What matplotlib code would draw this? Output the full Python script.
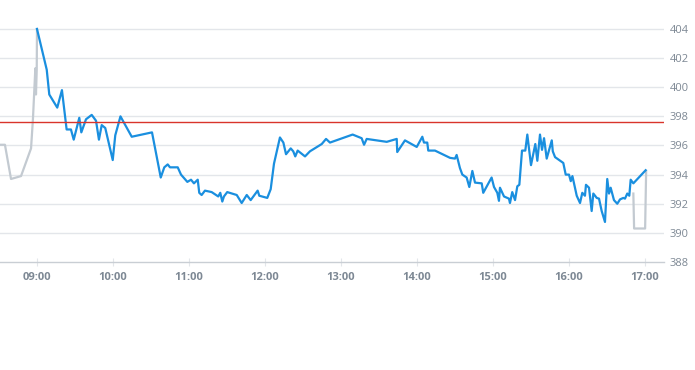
"""Intraday price chart: pre/post session in grey, session in blue, reference level in red."""
import matplotlib
matplotlib.use("Agg")
import matplotlib.pyplot as plt

plt.rcParams["font.family"] = ["Open Sans", "DejaVu Sans"]

# minutes after 09:00 -> price
pre_t = [-30, -25.3, -20.5, -12.6, -4.7, -3.2, -1.3, -0.8, -0.2, 0]
pre_p = [396.05, 396.05, 393.7, 393.9, 395.8, 397.8, 401.3, 399.5, 401.2, 404.0]

sess_t = [0, 7.7, 9.7, 16.0, 19.7, 23.4, 26.8, 29.0, 33.4, 35.0, 38.7, 43.2, 46.6,
          48.9, 51.1, 53.9, 59.8, 61.8, 65.9, 74.8, 90.8, 97.7, 100.5, 103.2, 105.0,
          111.1, 113.7, 118.7, 121.6, 123.9, 126.9, 128.1, 130.0, 132.6, 137.9,
          143.1, 144.7, 146.3, 147.6, 150.2, 157.7, 161.6, 165.6, 168.7, 174.2,
          175.5, 181.8, 184.5, 187.1, 191.8, 194.5, 196.6, 200.3, 202.3, 203.9,
          205.8, 211.6, 215.5, 224.8, 228.2, 231.3, 249.2, 256.3, 258.2, 260.3,
          276.1, 284.0, 284.4, 290.5, 299.8, 304.2, 305.5, 308.1, 308.9, 314.2,
          326.1, 330.0, 331.3, 333.9, 335.8, 339.2, 341.3, 343.7, 345.8, 351.1,
          352.3, 358.9, 360.8, 363.4, 364.7, 365.5, 368.7, 372.6, 373.4, 375.2,
          377.4, 379.2, 380.8, 382.9, 385.5, 387.1, 390.0, 393.4, 395.0, 397.1,
          398.7, 400.3, 402.4, 406.4, 407.2, 409.0, 415.5, 417.4, 420.0, 421.4,
          422.7, 426.1, 428.7, 430.5, 432.6, 433.4, 435.8, 437.9, 439.2, 441.9,
          443.7, 445.8, 448.4, 450.2, 451.6, 452.9, 455.5, 458.1, 460.3, 462.9,
          464.2, 466.0, 467.6, 468.7, 470.8, 480.5]
sess_p = [404.0, 401.2, 399.5, 398.6, 399.8, 397.1, 397.1, 396.4, 397.9, 396.9, 397.8,
          398.1, 397.7, 396.4, 397.4, 397.2, 395.0, 396.7, 398.0, 396.6, 396.9, 393.8,
          394.5, 394.7, 394.5, 394.5, 394.0, 393.5, 393.65, 393.4, 393.65, 392.75,
          392.6, 392.9, 392.8, 392.5, 392.75, 392.15, 392.5, 392.8, 392.6, 392.05,
          392.6, 392.25, 392.9, 392.55, 392.4, 393.0, 394.75, 396.55, 396.2, 395.4,
          395.8, 395.6, 395.25, 395.65, 395.25, 395.6, 396.1, 396.45, 396.2, 396.75,
          396.5, 396.05, 396.45, 396.25, 396.45, 395.55, 396.35, 395.9, 396.6, 396.2,
          396.2, 395.65, 395.65, 395.15, 395.1, 395.35, 394.45, 394.0, 393.8, 393.15,
          394.25, 393.45, 393.4, 392.75, 393.8, 393.15, 392.75, 392.2, 393.1, 392.5,
          392.35, 392.05, 392.8, 392.25, 393.2, 393.3, 395.65, 395.65, 396.75, 394.65,
          396.1, 394.95, 396.75, 395.7, 396.5, 395.1, 396.35, 395.6, 395.2, 394.8,
          394.0, 394.0, 393.55, 393.9, 392.55, 392.05, 392.75, 392.55, 393.3, 393.1,
          391.5, 392.7, 392.4, 392.35, 391.5, 390.75, 393.7, 392.7, 393.1, 392.25,
          392.0, 392.3, 392.4, 392.35, 392.7, 392.55, 393.65, 393.4, 394.3]

post_t = [470.8, 471.4, 480.1, 480.9]
post_p = [392.7, 390.3, 390.3, 394.25]

ref_level = 397.63

hour_ticks = [0, 60, 120, 180, 240, 300, 360, 420, 480]
hour_labels = ["09:00", "10:00", "11:00", "12:00", "13:00", "14:00", "15:00", "16:00", "17:00"]
price_ticks = [388, 390, 392, 394, 396, 398, 400, 402, 404]

fig = plt.figure(figsize=(6.95, 3.70), dpi=100)
ax = fig.add_axes([0.0, 1 - 262 / 370, 664 / 695, (262 - 14.4) / 370])

for y in price_ticks[1:]:
    ax.axhline(y, color="#e3e6ea", lw=1, zorder=0)

ax.plot(pre_t, pre_p, color="#c3cad1", lw=1.6, zorder=2)
ax.plot(sess_t, sess_p, color="#1a8fdf", lw=1.6, zorder=3)
ax.plot(post_t, post_p, color="#c3cad1", lw=1.6, zorder=2)
ax.axhline(ref_level, color="#d9342b", lw=1, zorder=4)

ax.set_xlim(-29.2, 495)
ax.set_ylim(388, 405)

for s in ["top", "left", "right"]:
    ax.spines[s].set_visible(False)
ax.spines["bottom"].set_color("#c9ced4")
ax.spines["bottom"].set_linewidth(1)

ax.set_xticks(hour_ticks)
ax.set_xticklabels(hour_labels, fontsize=8, fontweight="bold", color="#7d8894")
ax.tick_params(axis="x", direction="inout", length=6, width=0.8, color="#e3e6ea", pad=4)

ax.yaxis.tick_right()
ax.set_yticks(price_ticks)
ax.set_yticklabels([str(v) for v in price_ticks], fontsize=8, color="#7d8894")
ax.tick_params(axis="y", length=0, pad=4)

fig.savefig("out.png", dpi=100)
